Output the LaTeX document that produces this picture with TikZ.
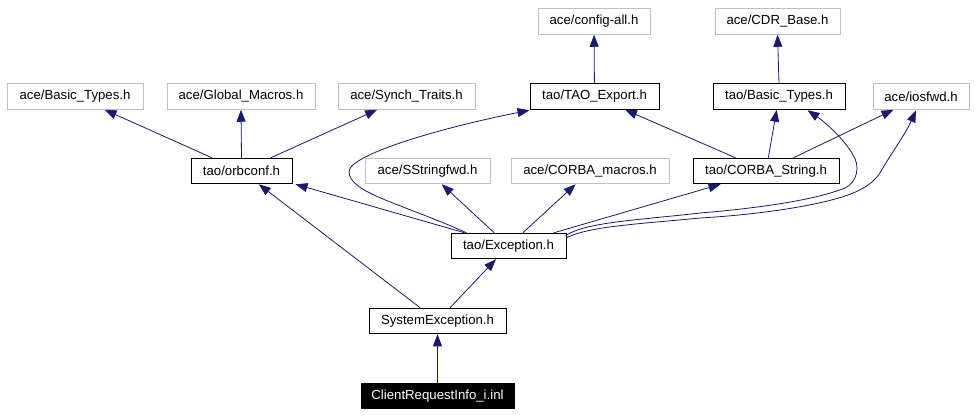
\documentclass[tikz,border=0pt]{standalone}
\usepackage{fontspec}
\setmainfont{Liberation Sans}
\usetikzlibrary{arrows.meta,calc}
\definecolor{edgecol}{RGB}{25,25,112}
\definecolor{graybd}{RGB}{191,191,191}
\begin{document}
\begin{tikzpicture}[x=1pt,y=-1pt,
 base/.style={rectangle, inner sep=0pt, minimum height=25.5pt, font=\fontsize{13.2}{15}\selectfont, line width=1pt},
 graybox/.style={base, draw=graybd},
 blackbox/.style={base, draw=black},
 rootbox/.style={base, draw=black, fill=black, text=white},
 edge/.style={draw=edgecol, line width=0.8pt, -{Triangle[length=12pt,width=9pt]}}]
\useasboundingbox (0,0) rectangle (976,415);
% row 0
\node[graybox, minimum width=112pt] (acfg) at (594,21.5) {ace/config-all.h};
\node[graybox, minimum width=125pt] (acdr) at (777.5,21.5) {ace/CDR\_Base.h};
% row 1
\node[graybox, minimum width=136pt] (abt) at (75,96.5) {ace/Basic\_Types.h};
\node[graybox, minimum width=148pt] (agm) at (241,96.5) {ace/Global\_Macros.h};
\node[graybox, minimum width=137pt] (ast) at (406.5,96.5) {ace/Synch\_Traits.h};
\node[blackbox, minimum width=129pt] (tex) at (594.5,96.5) {tao/TAO\_Export.h};
\node[blackbox, minimum width=132pt] (tbt) at (779,96.5) {tao/Basic\_Types.h};
\node[graybox, minimum width=96pt] (aios) at (921,96.5) {ace/iosfwd.h};
% row 2
\node[blackbox, minimum width=101pt] (orb) at (241.5,171) {tao/orbconf.h};
\node[graybox, minimum width=125pt] (ass) at (427.5,171) {ace/SStringfwd.h};
\node[graybox, minimum width=158pt] (acm) at (590,171) {ace/CORBA\_macros.h};
\node[blackbox, minimum width=146pt] (tcs) at (766,171) {tao/CORBA\_String.h};
% row 3
\node[blackbox, minimum width=115pt] (exc) at (508.5,246) {tao/Exception.h};
% row 4
\node[blackbox, minimum width=137pt] (sys) at (437.5,321) {SystemException.h};
% row 5
\node[rootbox, minimum width=153pt] (cri) at (437.5,396) {ClientRequestInfo\_i.inl};

% edges
\draw[edge] (tex) -- (acfg);
\draw[edge] (tbt.north) -- (acdr.south);
\draw[edge] (orb) -- (abt);
\draw[edge] (orb.north) -- (agm.south);
\draw[edge] (orb) -- (ast);
\draw[edge] (tcs) -- (tex);
\draw[edge] (tcs) -- (tbt);
\draw[edge] (tcs) -- (aios);
\draw[edge] ($(exc.north west)+(14,0)$) -- ($(orb.south east)+(3,0)$);
\draw[edge] ($(exc.north west)+(16,0)$) .. controls (400,203) and (350,193) .. (349,172)
   .. controls (348,155) and (440,128) .. ($(tex.south west)+(0,0.5)$);
\draw[edge] (exc) -- (ass);
\draw[edge] (exc) -- (acm);
\draw[edge] (exc) -- (tcs);
\draw[edge] ($(exc.north east)+(-1,3)$) .. controls (585,222) and (640,220) .. (700,213)
   .. controls (760,208) and (815,200) .. (845,188)
   .. controls (858,182) and (860,165) .. (853,155)
   .. controls (845,140) and (825,122) .. ($(tbt.south east)+(-38,0.5)$);
\draw[edge] ($(exc.north east)+(0,5)$) .. controls (590,226) and (640,224) .. (700,218)
   .. controls (770,214) and (830,203) .. (853,193)
   .. controls (868,187) and (875,180) .. (880,173)
   .. controls (890,155) and (905,135) .. ($(aios.south)+(-5,0.5)$);
\draw[edge] (sys) -- (orb);
\draw[edge] (sys) -- (exc);
\draw[edge] (cri) -- (sys);
\end{tikzpicture}
\end{document}
